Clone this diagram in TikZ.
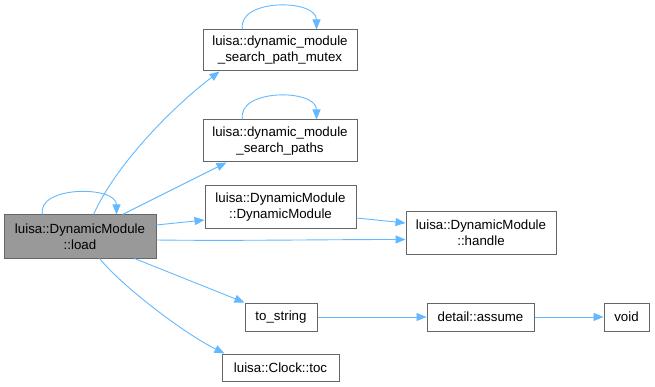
\documentclass[tikz,border=0pt]{standalone}
\usepackage{fontspec}
\setmainfont{Liberation Sans}
\usetikzlibrary{arrows.meta}
\definecolor{edgeblue}{HTML}{63B8FF}
\definecolor{boxline}{HTML}{666666}
\definecolor{curfill}{HTML}{999999}
\begin{document}
\begin{tikzpicture}[x=1pt,y=-1pt,
  fn/.style={draw=boxline, line width=1pt, fill=white, inner sep=0pt,
    align=center, font=\fontsize{13.3}{16}\selectfont},
  cur/.style={fn, fill=curfill},
  call/.style={draw=edgeblue, line width=0.9pt,
    -{Triangle[length=10pt,width=8pt]}}]
\useasboundingbox (0,0) rectangle (655,387);

% functions
\node[cur, minimum width=152pt, minimum height=43pt] (load) at (80,236.5)
  {luisa::DynamicModule\\::load};
\node[fn, minimum width=154pt, minimum height=41pt] (mutex) at (280,50.5)
  {luisa::dynamic\_module\\\_search\_path\_mutex};
\node[fn, minimum width=154pt, minimum height=42pt] (paths) at (280,141)
  {luisa::dynamic\_module\\\_search\_paths};
\node[fn, minimum width=151pt, minimum height=43pt] (ctor) at (280.5,207.5)
  {luisa::DynamicModule\\::DynamicModule};
\node[fn, minimum width=150pt, minimum height=42pt] (handle) at (481,233)
  {luisa::DynamicModule\\::handle};
\node[fn, minimum width=72pt, minimum height=28pt] (tostr) at (281,317)
  {to\_string};
\node[fn, minimum width=107pt, minimum height=28pt] (assume) at (480.5,317)
  {detail::assume};
\node[fn, minimum width=45pt, minimum height=28pt] (void) at (626.5,317)
  {void};
\node[fn, minimum width=117pt, minimum height=27pt] (toc) at (280.5,367.5)
  {luisa::Clock::toc};

% recursive calls
\draw[call] ([xshift=39pt]load.north west) .. controls +(-6,-29) and +(0,-29)
  .. ([xshift=113pt]load.north west);
\draw[call] ([xshift=40pt]mutex.north west) .. controls +(-6,-31) and +(0,-31)
  .. ([xshift=114pt]mutex.north west);
\draw[call] ([xshift=40pt]paths.north west) .. controls +(-6,-31) and +(0,-31)
  .. ([xshift=114pt]paths.north west);

% calls from load
\draw[call] ([xshift=90pt]load.north west) .. controls +(25,-55) and +(-40,30)
  .. ([xshift=17pt]mutex.south west);
\draw[call] ([xshift=119pt]load.north west) -- ([xshift=24pt]paths.south west);
\draw[call] ([yshift=11.5pt]load.east) -- ([yshift=-12.5pt]ctor.west);
\draw[call] ([yshift=-3.5pt]load.east) .. controls +(80,1) and +(-80,0)
  .. ([yshift=-6.5pt]handle.west);
\draw[call] ([xshift=131pt]load.south west) -- (tostr.north west);
\draw[call] ([xshift=96pt]load.south west) .. controls +(25,30) and +(-40,-20)
  .. ([xshift=3pt]toc.north west);

% further calls
\draw[call] ([yshift=-10.5pt]ctor.east) -- ([yshift=10pt]handle.west);
\draw[call] (tostr.east) -- (assume.west);
\draw[call] (assume.east) -- (void.west);
\end{tikzpicture}
\end{document}
